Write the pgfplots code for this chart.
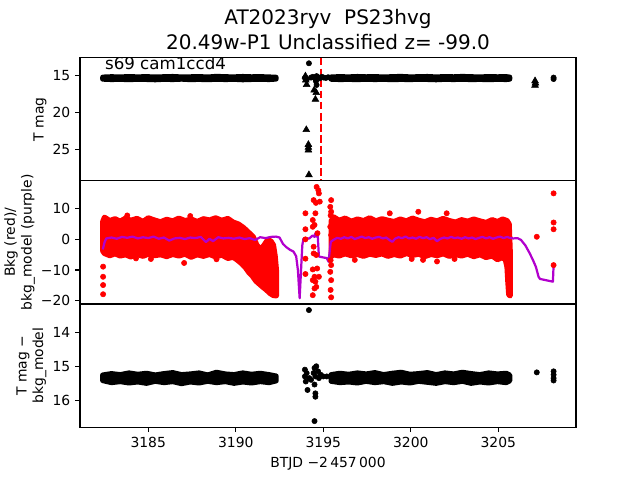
\documentclass[border=0pt]{standalone}
\usepackage{pgfplots}
\pgfplotsset{compat=1.18}
\usepackage{fontspec}
\setmainfont{DejaVu Sans}
\definecolor{bkgpurple}{RGB}{178,0,205}
\pgfplotsset{
 panel/.style={scale only axis, width=357.12pt, height=88.704pt, anchor=south west,
  xmin=3181.1, xmax=3209.44, axis line style={line width=0.8pt},
  tick align=outside, major tick length=3.5pt,
  every tick/.append style={black,line width=0.8pt},
  xtick pos=bottom, ytick pos=left, minor tick num=0,
  tick label style={font=\fontsize{10}{12}\selectfont},
  label style={font=\fontsize{10}{12}\selectfont},
  ylabel style={yshift=-2.5pt},
 },
 band/.style={line width=3.8pt, line join=round, line cap=round},
 dots/.style={only marks, mark=*, mark size=1.9pt},
}
\begin{document}
\begin{tikzpicture}
\path[use as bounding box] (0,0) rectangle (460.8pt,345.6pt);
% ---------------- top panel ----------------
\begin{axis}[panel, at={(57.6pt,215.424pt)},
  ymin=12.55, ymax=29.2, y dir=reverse,
  ytick={15,20,25}, yticklabels={15,20,25}, xtick=\empty,
  ylabel={T mag},
  title={AT2023ryv\ \ PS23hvg\\20.49w-P1 Unclassified z= -99.0},
  title style={at={(0.5,1)}, anchor=south, yshift=-0.9pt, align=center, inner sep=0pt,
    font=\fontsize{14.4}{18}\selectfont},
]
\addplot[band, draw=black, fill=black] coordinates {
(3182.40,15.20) (3182.90,15.15) (3183.40,15.18) (3183.90,15.13) (3184.40,15.17) (3184.90,15.14)
(3185.40,15.19) (3185.90,15.15) (3186.40,15.12) (3186.90,15.18) (3187.40,15.16) (3187.90,15.13)
(3188.40,15.19) (3188.90,15.10) (3189.40,15.15) (3189.90,15.17) (3190.40,15.12) (3190.90,15.16)
(3191.40,15.14) (3191.90,15.18) (3192.30,15.22)
(3192.30,15.44) (3191.90,15.50) (3191.40,15.46) (3190.90,15.49) (3190.40,15.53) (3189.90,15.47)
(3189.40,15.50) (3188.90,15.46) (3188.40,15.52) (3187.90,15.48) (3187.40,15.51) (3186.90,15.45)
(3186.40,15.50) (3185.90,15.47) (3185.40,15.53) (3184.90,15.49) (3184.40,15.46) (3183.90,15.52)
(3183.40,15.47) (3182.90,15.50) (3182.40,15.45) (3182.40,15.20)};
\addplot[band, draw=black, fill=black] coordinates {
(3195.45,15.18) (3195.95,15.14) (3196.45,15.17) (3196.95,15.12) (3197.45,15.16) (3197.95,15.13)
(3198.45,15.19) (3198.95,15.14) (3199.45,15.11) (3199.95,15.17) (3200.45,15.15) (3200.95,15.12)
(3201.45,15.18) (3201.95,15.13) (3202.45,15.16) (3202.95,15.11) (3203.45,15.15) (3203.95,15.18)
(3204.45,15.13) (3204.95,15.16) (3205.45,15.14) (3205.65,15.20)
(3205.65,15.45) (3205.45,15.50) (3204.95,15.47) (3204.45,15.52) (3203.95,15.48) (3203.45,15.51)
(3202.95,15.46) (3202.45,15.50) (3201.95,15.47) (3201.45,15.53) (3200.95,15.49) (3200.45,15.46)
(3199.95,15.51) (3199.45,15.48) (3198.95,15.52) (3198.45,15.47) (3197.95,15.50) (3197.45,15.46)
(3196.95,15.51) (3196.45,15.48) (3195.95,15.50) (3195.45,15.46) (3195.45,15.18)};
\addplot[dots, black] coordinates {
(3194.18,13.32) (3193.95,15.30) (3194.05,15.55) (3194.30,15.25) (3194.40,15.15) (3194.55,15.45)
(3194.62,15.05) (3194.70,15.20) (3194.80,15.35) (3194.92,15.15) (3195.02,15.25) (3195.15,15.30)
(3195.28,15.20) (3194.58,15.75) (3194.62,16.25) (3208.16,15.25) (3208.16,15.45)};
\addplot[only marks, mark=triangle*, mark size=2.8pt, black] coordinates {
(3193.98,15.05) (3194.00,15.60) (3194.05,16.20) (3194.48,16.95) (3194.60,17.30) (3194.55,18.20)
(3194.03,22.30) (3194.15,24.30) (3194.15,24.70) (3194.15,25.05) (3194.18,28.40)
(3207.10,15.70) (3207.12,16.00) (3207.10,16.30)};
\addplot[red, line width=1.5pt, dash pattern=on 5.55pt off 2.4pt] coordinates {(3194.89,12.55) (3194.89,29.2)};
\node[anchor=base west, font=\fontsize{12}{14}\selectfont, inner sep=0pt] at (rel axis cs:0.05,0.9) {s69 cam1ccd4};
\end{axis}
% ---------------- middle panel ----------------
\begin{axis}[panel, at={(57.6pt,126.72pt)},
  ymin=-21.08, ymax=19.1,
  ytick={-20,-10,0,10}, yticklabels={−20,−10,0,10}, xtick=\empty,
  ylabel={Bkg (red)/\\bkg\_model (purple)}, ylabel style={align=center},
]
\addplot[band, draw=red, fill=red] coordinates {
(3182.40,5.8) (3182.50,7.2) (3182.80,6.1) (3183.10,6.7) (3183.40,5.9) (3183.70,6.9) (3184.00,6.2)
(3184.35,6.8) (3184.70,5.8) (3185.00,7.0) (3185.35,6.3) (3185.70,5.7) (3186.05,6.5) (3186.40,6.0)
(3186.75,6.9) (3187.10,6.1) (3187.45,6.6) (3187.80,5.8) (3188.15,6.7) (3188.50,6.3) (3188.85,7.0)
(3189.20,6.2) (3189.55,6.8) (3189.85,5.6) (3190.15,5.0) (3190.45,3.8) (3190.75,2.2) (3191.00,0.8)
(3191.20,-1.8) (3191.40,-3.3) (3191.60,-2.0) (3191.80,-0.3) (3192.00,-0.5) (3192.15,-1.8)
(3192.25,-5.5) (3192.32,-10.0)
(3192.32,-18.4) (3192.15,-18.3) (3191.95,-17.6) (3191.75,-16.5) (3191.55,-15.6) (3191.35,-14.6)
(3191.15,-13.6) (3190.95,-12.0) (3190.75,-10.8) (3190.55,-9.2) (3190.35,-8.0) (3190.10,-6.8)
(3189.85,-5.8) (3189.55,-6.2) (3189.20,-5.1) (3188.85,-5.7) (3188.50,-4.9) (3188.15,-5.5)
(3187.80,-5.0) (3187.45,-5.8) (3187.10,-4.8) (3186.75,-5.4) (3186.40,-4.9) (3186.05,-5.6)
(3185.70,-5.0) (3185.35,-5.3) (3185.00,-4.8) (3184.70,-5.5) (3184.35,-4.9) (3184.00,-5.7)
(3183.70,-5.0) (3183.40,-5.4) (3183.10,-4.7) (3182.80,-5.3) (3182.50,-4.6) (3182.40,-3.8)
(3182.40,5.8)};
\addplot[band, draw=red, fill=red] coordinates {
(3195.45,6.0) (3195.60,7.3) (3195.90,6.2) (3196.25,6.9) (3196.60,5.9) (3196.95,6.6) (3197.30,6.1)
(3197.65,7.0) (3198.00,6.0) (3198.35,6.7) (3198.70,6.2) (3199.05,5.8) (3199.40,6.6) (3199.75,6.0)
(3200.10,6.9) (3200.45,6.2) (3200.80,5.7) (3201.15,6.5) (3201.50,6.0) (3201.85,6.8) (3202.20,6.1)
(3202.55,5.6) (3202.90,6.4) (3203.25,5.9) (3203.60,6.6) (3203.95,6.0) (3204.30,5.5) (3204.65,6.4)
(3204.95,5.8) (3205.25,6.6) (3205.50,6.1) (3205.62,5.0) (3205.68,-4.0)
(3205.68,-18.4) (3205.60,-18.1) (3205.55,-14.0) (3205.50,-9.0) (3205.40,-6.5) (3205.20,-6.0)
(3204.95,-6.6) (3204.65,-5.4) (3204.30,-5.9) (3203.95,-5.0) (3203.60,-5.6) (3203.25,-4.8)
(3202.90,-5.4) (3202.55,-4.9) (3202.20,-5.5) (3201.85,-4.7) (3201.50,-5.3) (3201.15,-4.9)
(3200.80,-5.6) (3200.45,-4.8) (3200.10,-5.2) (3199.75,-4.6) (3199.40,-5.4) (3199.05,-4.9)
(3198.70,-5.5) (3198.35,-4.7) (3198.00,-5.2) (3197.65,-4.8) (3197.30,-5.5) (3196.95,-4.9)
(3196.60,-5.3) (3196.25,-4.7) (3195.90,-5.4) (3195.60,-5.0) (3195.45,-5.6) (3195.45,6.0)};
\addplot[dots, red] coordinates {
(3182.42,-8.9) (3182.42,-12.2) (3182.42,-14.9) (3182.42,-17.9)
(3185.15,-6.4) (3187.05,-7.7) (3184.30,-6.2) (3188.90,-6.5) (3183.80,7.8) (3187.40,7.6)
(3193.98,8.5) (3193.98,3.3) (3193.98,0.0) (3193.98,-6.3) (3193.98,-11.3)
(3194.62,17.1) (3194.72,16.0) (3194.75,15.0) (3194.45,12.8) (3194.80,12.3) (3194.58,11.9)
(3194.55,8.5) (3194.40,6.3) (3194.50,4.7) (3194.40,4.1) (3194.67,2.0) (3194.45,-2.4)
(3194.60,-5.1) (3194.45,-4.6) (3194.40,-9.8) (3194.65,-9.5) (3194.50,-12.2) (3194.55,-13.8)
(3194.40,-13.3) (3194.60,-15.5) (3194.50,-16.0) (3194.40,-18.2) (3194.75,-12.2)
(3195.45,12.8) (3195.40,10.6) (3195.45,9.0) (3195.42,7.8) (3195.40,4.1) (3195.45,1.4)
(3195.42,-6.8) (3195.45,-8.4) (3195.40,-10.6) (3195.45,-13.3) (3195.42,-16.5) (3195.45,-18.9)
(3198.80,8.5) (3200.43,9.0) (3202.05,8.5) (3196.80,-6.7) (3200.05,-6.4) (3200.70,-6.7)
(3201.50,-7.2) (3202.50,-6.4)
(3207.20,0.85) (3208.16,15.0) (3208.16,5.5) (3208.16,3.3) (3208.16,-8.4)};
\addplot[bkgpurple, line width=1.6pt, line join=round] coordinates {
(3182.40,-3.3) (3182.50,-1.0) (3182.60,0.3) (3182.90,0.6) (3183.20,0.2) (3183.50,0.8) (3183.80,0.5)
(3184.10,0.9) (3184.40,0.3) (3184.70,0.7) (3185.00,0.4) (3185.30,0.9) (3185.60,0.2) (3185.90,0.6)
(3186.20,-0.4) (3186.50,0.3) (3186.80,0.5) (3187.10,0.1) (3187.40,0.6) (3187.70,0.4) (3188.00,0.8)
(3188.30,-0.9) (3188.50,0.2) (3188.70,-0.6) (3189.00,0.7) (3189.30,0.3) (3189.60,0.5) (3189.90,0.2)
(3190.20,0.6) (3190.50,0.1) (3190.80,0.4) (3191.10,-0.2) (3191.40,0.7) (3191.70,0.4) (3192.00,0.8)
(3192.30,0.9) (3192.50,0.6) (3192.70,-1.5) (3192.90,-2.6) (3193.10,-3.4) (3193.30,-4.0)
(3193.45,-5.5) (3193.55,-10.0) (3193.65,-19.2) (3193.80,-2.0) (3193.87,0.3) (3194.20,0.3)
(3194.40,1.3) (3194.50,0.8) (3194.55,2.0) (3194.62,0.9) (3194.68,1.6) (3194.75,-5.6) (3195.00,-5.9)
(3195.20,-6.1) (3195.30,-7.3) (3195.43,-0.8) (3195.60,-0.1) (3195.80,0.5) (3196.00,0.2) (3196.20,0.7)
(3196.40,0.3) (3196.60,0.8) (3196.80,0.1) (3197.00,0.5) (3197.20,0.9) (3197.40,0.4) (3197.60,0.7)
(3197.80,0.2) (3198.00,0.6) (3198.20,0.8) (3198.40,0.3) (3198.60,0.6) (3198.80,-0.3) (3198.95,-0.8)
(3199.10,0.2) (3199.30,0.7) (3199.50,0.4) (3199.70,0.9) (3199.90,0.3) (3200.10,0.6) (3200.30,0.2)
(3200.50,0.8) (3200.70,0.4) (3200.90,0.7) (3201.10,0.1) (3201.30,0.5) (3201.50,-0.6) (3201.70,0.2)
(3201.90,0.6) (3202.10,0.3) (3202.30,0.8) (3202.50,0.4) (3202.70,0.6) (3202.90,0.2) (3203.10,0.7)
(3203.30,0.3) (3203.50,0.6) (3203.70,0.1) (3203.90,0.5) (3204.10,0.8) (3204.30,0.3) (3204.50,0.7)
(3204.70,0.2) (3204.90,0.6) (3205.10,0.9) (3205.30,0.4) (3205.50,0.8) (3205.65,0.5) (3205.85,0.3)
(3206.10,0.4) (3206.30,-0.2) (3206.55,-2.0) (3206.80,-4.6) (3207.00,-7.0) (3207.15,-9.0)
(3207.30,-12.2) (3207.38,-12.9) (3208.12,-13.8) (3208.16,-8.4)};
\end{axis}
% ---------------- bottom panel ----------------
\begin{axis}[panel, at={(57.6pt,38.016pt)},
  ymin=13.16, ymax=16.80, y dir=reverse,
  ytick={14,15,16}, yticklabels={14,15,16},
  xtick={3185,3190,3195,3200,3205}, xticklabels={3185,3190,3195,3200,3205},
  ylabel={T mag −\\bkg\_model}, ylabel style={align=center},
  xlabel={BTJD −2\,457\,000},
]
\addplot[band, draw=black, fill=black] coordinates {
(3182.40,15.26) (3182.90,15.22) (3183.40,15.25) (3183.90,15.20) (3184.40,15.24) (3184.90,15.21)
(3185.40,15.26) (3185.90,15.22) (3186.40,15.19) (3186.90,15.25) (3187.40,15.23) (3187.90,15.20)
(3188.40,15.26) (3188.90,15.18) (3189.40,15.23) (3189.90,15.25) (3190.40,15.20) (3190.90,15.24)
(3191.40,15.21) (3191.90,15.25) (3192.30,15.29)
(3192.30,15.43) (3191.90,15.48) (3191.40,15.45) (3190.90,15.49) (3190.40,15.46) (3189.90,15.50)
(3189.40,15.45) (3188.90,15.48) (3188.40,15.44) (3187.90,15.49) (3187.40,15.46) (3186.90,15.51)
(3186.40,15.45) (3185.90,15.48) (3185.40,15.44) (3184.90,15.50) (3184.40,15.46) (3183.90,15.49)
(3183.40,15.45) (3182.90,15.48) (3182.40,15.42) (3182.40,15.26)};
\addplot[band, draw=black, fill=black] coordinates {
(3195.45,15.25) (3195.95,15.21) (3196.45,15.24) (3196.95,15.20) (3197.45,15.23) (3197.95,15.19)
(3198.45,15.25) (3198.95,15.21) (3199.45,15.18) (3199.95,15.24) (3200.45,15.22) (3200.95,15.19)
(3201.45,15.25) (3201.95,15.20) (3202.45,15.23) (3202.95,15.18) (3203.45,15.22) (3203.95,15.25)
(3204.45,15.20) (3204.95,15.23) (3205.45,15.21) (3205.65,15.26)
(3205.65,15.43) (3205.45,15.48) (3204.95,15.45) (3204.45,15.49) (3203.95,15.46) (3203.45,15.50)
(3202.95,15.44) (3202.45,15.48) (3201.95,15.45) (3201.45,15.50) (3200.95,15.47) (3200.45,15.44)
(3199.95,15.49) (3199.45,15.46) (3198.95,15.50) (3198.45,15.45) (3197.95,15.48) (3197.45,15.44)
(3196.95,15.49) (3196.45,15.46) (3195.95,15.48) (3195.45,15.44) (3195.45,15.25)};
\addplot[dots, black] coordinates {
(3194.18,13.34) (3193.95,15.10) (3193.95,15.30) (3194.00,15.45) (3194.05,15.20) (3194.20,15.35)
(3194.30,15.40) (3194.45,15.20) (3194.50,15.05) (3194.55,15.30) (3194.60,15.00) (3194.70,15.15)
(3194.75,15.35) (3194.85,15.25) (3195.00,15.30) (3195.20,15.30)
(3194.10,15.70) (3194.50,15.54) (3194.55,15.80) (3194.55,15.90) (3194.50,16.62)
(3207.20,15.18) (3208.16,15.15) (3208.16,15.25) (3208.16,15.35) (3208.16,15.42)};
\end{axis}
\end{tikzpicture}
\end{document}
